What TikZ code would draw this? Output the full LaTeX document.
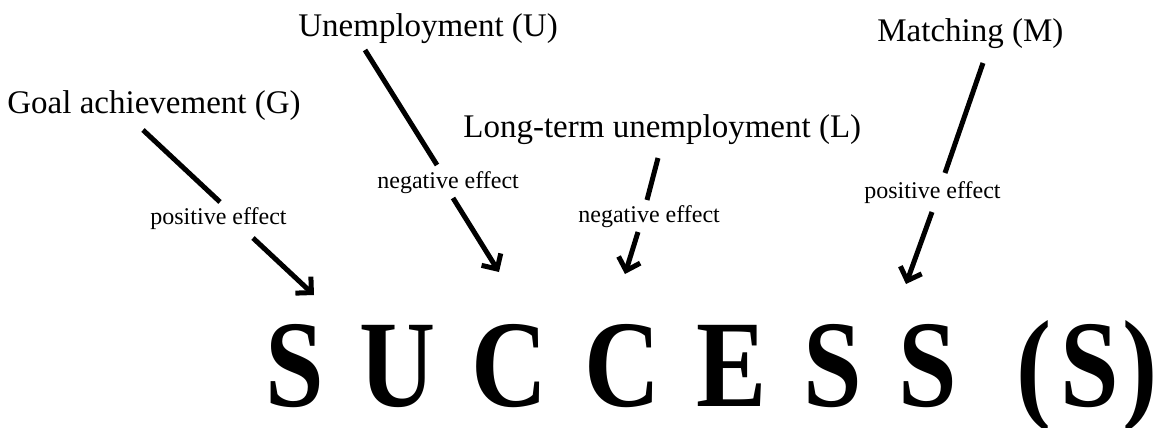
\documentclass[tikz,border=0pt]{standalone}
\usepackage{fontspec}
\setmainfont{Liberation Serif}
\usetikzlibrary{arrows.meta}
\begin{document}
\begin{tikzpicture}[x=0.5pt,y=-0.5pt,
  factor/.style={anchor=base west, inner sep=0pt, font=\fontsize{16.5}{18}\selectfont},
  effect/.style={anchor=base west, inner sep=0pt, font=\fontsize{12}{14}\selectfont},
  letter/.style={anchor=base, inner sep=0pt, font=\fontsize{62}{70}\selectfont\bfseries},
  link/.style={line width=2.5pt},
  linkarrow/.style={link, -{Straight Barb[angle=90:8pt]}}]
\useasboundingbox (0,0) rectangle (1158,428);

% factors
\node[factor] (G) at (7,113)   {Goal achievement (G)};
\node[factor] (U) at (298,36)  {Unemployment (U)};
\node[factor] (L) at (463,137) {Long-term unemployment (L)};
\node[factor] (M) at (877,41)  {Matching (M)};

% effect labels
\node[effect] (eG) at (150,224) {positive effect};
\node[effect] (eU) at (377,188) {negative effect};
\node[effect] (eL) at (578,222) {negative effect};
\node[effect] (eM) at (864,198) {positive effect};

% the outcome, letter by letter
\node[letter] (s1) at (295,406)  {\scalebox{0.85}[1]{S}};
\node[letter] (s2) at (398,406)  {\scalebox{0.85}[1]{U}};
\node[letter] (s3) at (510,406)  {\scalebox{0.85}[1]{C}};
\node[letter] (s4) at (623,406)  {\scalebox{0.85}[1]{C}};
\node[letter] (s5) at (732,406)  {\scalebox{0.85}[1]{E}};
\node[letter] (s6) at (833,406)  {\scalebox{0.85}[1]{S}};
\node[letter] (s7) at (928,406)  {\scalebox{0.85}[1]{S}};
\node[letter] (p1) at (1034,406) {\scalebox{0.85}[1]{(}};
\node[letter] (s8) at (1090,406) {\scalebox{0.85}[1]{S}};
\node[letter] (p2) at (1140,406) {\scalebox{0.85}[1]{)}};

% arrow end points
\coordinate (gA) at (143,130); \coordinate (gB) at (220,202);
\coordinate (gC) at (253,238); \coordinate (gD) at (314,295);
\coordinate (uA) at (365,50);  \coordinate (uB) at (437,165);
\coordinate (uC) at (453,198); \coordinate (uD) at (499,272);
\coordinate (lA) at (658,158); \coordinate (lB) at (647,200);
\coordinate (lC) at (638,232); \coordinate (lD) at (625,274);
\coordinate (mA) at (983,63);  \coordinate (mB) at (945,173);
\coordinate (mC) at (932,212); \coordinate (mD) at (906,284);

% arrows, broken by their labels
\draw[link] (gA) -- (gB);  \draw[linkarrow] (gC) -- (gD);
\draw[link] (uA) -- (uB);  \draw[linkarrow] (uC) -- (uD);
\draw[link] (lA) -- (lB);  \draw[linkarrow] (lC) -- (lD);
\draw[link] (mA) -- (mB);  \draw[linkarrow] (mC) -- (mD);
\end{tikzpicture}
\end{document}
